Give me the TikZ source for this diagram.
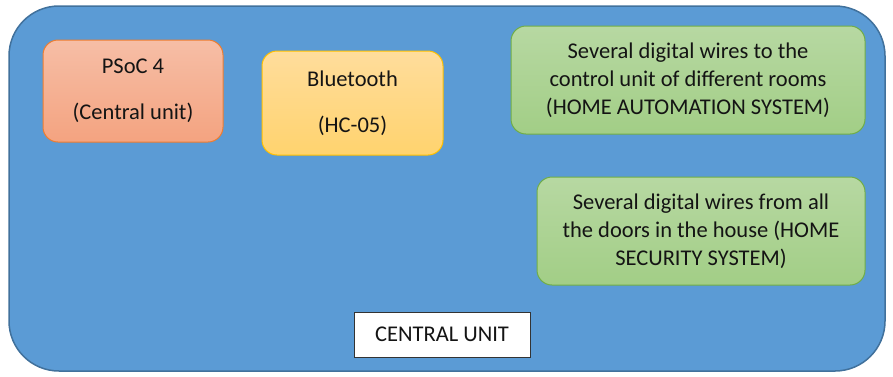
\documentclass[tikz,border=0pt]{standalone}
\usepackage{fontspec}
\setmainfont{Carlito}
\definecolor{outerfill}{HTML}{5B9BD5}
\definecolor{outerdraw}{HTML}{41719C}
\definecolor{psoctop}{HTML}{F6BEA6}
\definecolor{psocbot}{HTML}{F4A380}
\definecolor{psocdraw}{HTML}{ED7D31}
\definecolor{bttop}{HTML}{FFDD9C}
\definecolor{btbot}{HTML}{FFD36E}
\definecolor{btdraw}{HTML}{FFC000}
\definecolor{grtop}{HTML}{B7D8A2}
\definecolor{grbot}{HTML}{A2CE86}
\definecolor{grdraw}{HTML}{70AD47}
\definecolor{txt}{HTML}{141414}
\tikzset{
  blk/.style={rectangle, rounded corners=15pt, line width=1pt, align=center, inner sep=0pt,
    font=\fontsize{22.5}{28}\selectfont, text=txt},
  psocbox/.style={blk, draw=psocdraw, top color=psoctop, bottom color=psocbot},
  btbox/.style={blk, draw=btdraw, top color=bttop, bottom color=btbot},
  grbox/.style={blk, draw=grdraw, top color=grtop, bottom color=grbot},
  labelbox/.style={rectangle, draw=black!80, fill=white, line width=1pt, inner sep=0pt,
    font=\fontsize{22.5}{28}\selectfont, text=txt}
}
\begin{document}
\begin{tikzpicture}[x=1pt, y=-1pt]
\useasboundingbox (0,0) rectangle (893,376);
\node[rectangle, rounded corners=50pt, draw=outerdraw, fill=outerfill, line width=1.5pt,
  minimum width=876pt, minimum height=365pt, inner sep=0pt] (outer) at (447,188.5) {};
\node[psocbox, minimum width=180pt, minimum height=102pt] (psoc) at (133,91)
  {PSoC 4\\[18pt](Central unit)};
\node[btbox, minimum width=181pt, minimum height=104pt] (bt) at (352.5,103)
  {Bluetooth\\[18pt](HC-05)};
\node[grbox, minimum width=354pt, minimum height=108pt] (auto) at (688,80)
  {Several digital wires to the\\control unit of different rooms\\(HOME AUTOMATION SYSTEM)};
\node[grbox, minimum width=328pt, minimum height=108pt] (sec) at (701,231)
  {Several digital wires from all\\the doors in the house (HOME\\SECURITY SYSTEM)};
\node[labelbox, minimum width=176pt, minimum height=45pt] (cu) at (442,334.5) {CENTRAL UNIT};
\end{tikzpicture}
\end{document}
